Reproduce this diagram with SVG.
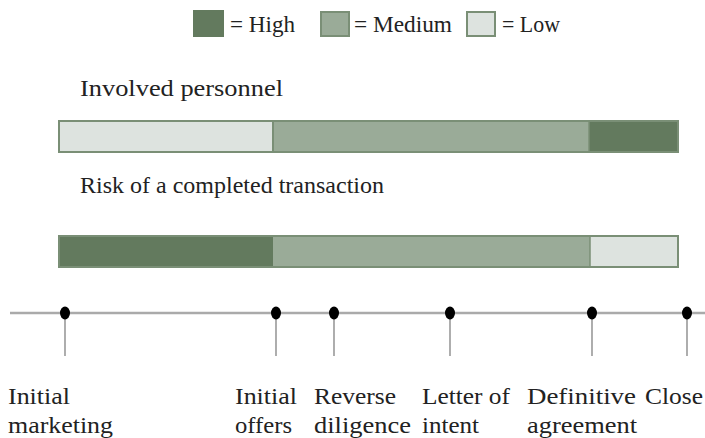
<svg xmlns="http://www.w3.org/2000/svg" width="705" height="438" viewBox="0 0 705 438">
<style>
text{font-family:"Liberation Serif","DejaVu Serif",serif;font-size:24px;fill:#222}
.sm{font-size:23px}
.hi{fill:#637a5e}
.me{fill:#9aab98}
.lo{fill:#dde3df}
.bd{fill:none;stroke:#7a8f76;stroke-width:2}
.axis{stroke:#aaa;stroke-width:2.5}
.tick{stroke:#777;stroke-width:1.2}
</style>
<rect width="705" height="438" fill="#fff"/>
<g id="legend">
<rect class="hi" x="194" y="11" width="29" height="25" stroke="#637a5e" stroke-width="2"/>
<text class="sm" x="230" y="32" textLength="65" lengthAdjust="spacingAndGlyphs">= High</text>
<rect class="me" x="321" y="12" width="28" height="24" stroke="#7a8f76" stroke-width="2"/>
<text class="sm" x="354" y="32" textLength="98" lengthAdjust="spacingAndGlyphs">= Medium</text>
<rect class="lo" x="467" y="12" width="28" height="24" stroke="#7a8f76" stroke-width="2"/>
<text class="sm" x="502" y="32" textLength="58" lengthAdjust="spacingAndGlyphs">= Low</text>
</g>
<g id="personnel">
<text x="80" y="96" textLength="203" lengthAdjust="spacingAndGlyphs">Involved personnel</text>
<rect class="lo" x="59" y="121" width="214" height="31"/>
<rect class="me" x="273" y="121" width="316" height="31"/>
<rect class="hi" x="589" y="121" width="89" height="31"/>
<rect class="bd" x="59" y="121" width="619" height="31"/>
<line x1="273" y1="121" x2="273" y2="152" stroke="#7a8f76" stroke-width="2"/>
<line x1="589" y1="121" x2="589" y2="152" stroke="#7a8f76" stroke-width="1.5"/>
</g>
<g id="risk">
<text x="80" y="193" textLength="304" lengthAdjust="spacingAndGlyphs">Risk of a completed transaction</text>
<rect class="hi" x="59" y="236" width="214" height="31"/>
<rect class="me" x="273" y="236" width="317" height="31"/>
<rect class="lo" x="590" y="236" width="88" height="31"/>
<rect class="bd" x="59" y="236" width="619" height="31"/>
<line x1="590" y1="236" x2="590" y2="267" stroke="#7a8f76" stroke-width="1.5"/>
</g>
<g id="connectors">
<line class="axis" x1="10" y1="313" x2="705" y2="313"/>
<line class="tick" x1="65" y1="313" x2="65" y2="356"/>
<line class="tick" x1="276" y1="313" x2="276" y2="356"/>
<line class="tick" x1="334" y1="313" x2="334" y2="356"/>
<line class="tick" x1="450" y1="313" x2="450" y2="356"/>
<line class="tick" x1="592" y1="313" x2="592" y2="356"/>
<line class="tick" x1="687" y1="313" x2="687" y2="356"/>
</g>
<g id="m1"><ellipse cx="65" cy="313" rx="5" ry="6.5"/><text x="8" y="404" textLength="62" lengthAdjust="spacingAndGlyphs">Initial</text><text x="8" y="433" textLength="105" lengthAdjust="spacingAndGlyphs">marketing</text></g>
<g id="m2"><ellipse cx="276" cy="313" rx="5" ry="6.5"/><text x="235" y="404" textLength="62" lengthAdjust="spacingAndGlyphs">Initial</text><text x="235" y="433" textLength="57" lengthAdjust="spacingAndGlyphs">offers</text></g>
<g id="m3"><ellipse cx="334" cy="313" rx="5" ry="6.5"/><text x="314" y="404" textLength="82" lengthAdjust="spacingAndGlyphs">Reverse</text><text x="314" y="433" textLength="97" lengthAdjust="spacingAndGlyphs">diligence</text></g>
<g id="m4"><ellipse cx="450" cy="313" rx="5" ry="6.5"/><text x="422" y="404" textLength="88" lengthAdjust="spacingAndGlyphs">Letter of</text><text x="422" y="433" textLength="57" lengthAdjust="spacingAndGlyphs">intent</text></g>
<g id="m5"><ellipse cx="592" cy="313" rx="5" ry="6.5"/><text x="527" y="404" textLength="109" lengthAdjust="spacingAndGlyphs">Definitive</text><text x="527" y="433" textLength="110" lengthAdjust="spacingAndGlyphs">agreement</text></g>
<g id="m6"><ellipse cx="687" cy="313" rx="5" ry="6.5"/><text x="645" y="404" textLength="58" lengthAdjust="spacingAndGlyphs">Close</text></g>
</svg>
